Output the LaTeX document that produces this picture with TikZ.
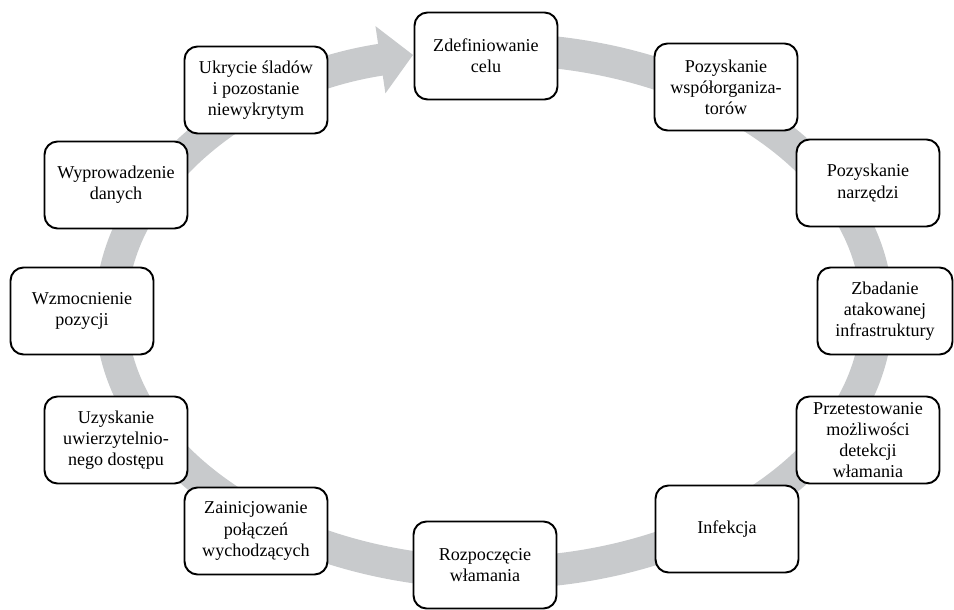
\documentclass[tikz,border=0pt]{standalone}
\usepackage{fontspec}
\setmainfont{Liberation Serif}
\usepackage{xcolor}
\usetikzlibrary{arrows.meta}
\definecolor{cycleband}{RGB}{200,202,204}

\begin{document}
\begin{tikzpicture}[x=0.02cm, y=0.02cm,
    stage/.style={draw=black, line width=1.1pt, rounded corners=0.26cm,
        fill=white, minimum width=2.86cm, minimum height=1.74cm,
        align=center, inner sep=2pt, font=\fontsize{10.3}{12}\selectfont}]
\useasboundingbox (0,0) rectangle (954,609);
\def\cx{494}
\def\cy{298}
% Gray band round the cycle, with its arrow head at the first stage
\coordinate (bandstart) at ({\cx+383*cos(85)},{\cy+262*sin(85)});
\draw[cycleband, line width=0.64cm, -{Triangle[length=0.66cm, width=1.32cm]}]
    (bandstart) arc[start angle=85, end angle=-257.8,
                    x radius=383, y radius=262];
% Stages, clockwise from the top
\node[stage] (zdef)   at (486,553) {Zdefiniowanie\\celu};
\node[stage] (pozwsp) at (726,522) {Pozyskanie\\współorganiza-\\torów};
\node[stage] (poznar) at (868,426) {Pozyskanie\\narzędzi};
\node[stage, minimum width=2.7cm] (zbadan) at (885,298)
    {Zbadanie\\atakowanej\\infrastruktury};
\node[stage] (przet)  at (868,169) {Przetestowanie\\możliwości\\detekcji\\włamania};
\node[stage] (infek)  at (727,80)  {Infekcja};
\node[stage] (rozp)   at (485,44)  {Rozpoczęcie\\włamania};
\node[stage] (zainic) at (256,78)  {Zainicjowanie\\połączeń\\wychodzących};
\node[stage] (uzysk)  at (116,169) {Uzyskanie\\uwierzytelnio-\\nego dostępu};
\node[stage] (wzmoc)  at (82,298)  {Wzmocnienie\\pozycji};
\node[stage] (wypro)  at (116,424) {Wyprowadzenie\\danych};
\node[stage] (ukryc)  at (256,519) {Ukrycie śladów\\i pozostanie\\niewykrytym};
\end{tikzpicture}
\end{document}
